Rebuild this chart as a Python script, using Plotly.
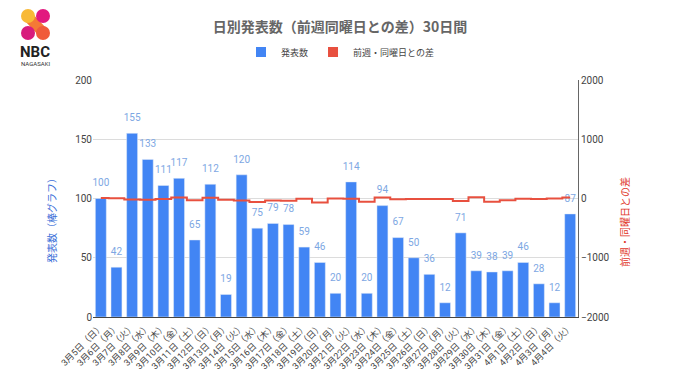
import plotly.graph_objects as go

# ---------------- data ----------------
dates = ["3月5日（日）", "3月6日（月）", "3月7日（火）", "3月8日（水）", "3月9日（木）",
         "3月10日（金）", "3月11日（土）", "3月12日（日）", "3月13日（月）", "3月14日（火）",
         "3月15日（水）", "3月16日（木）", "3月17日（金）", "3月18日（土）", "3月19日（日）",
         "3月20日（月）", "3月21日（火）", "3月22日（水）", "3月23日（木）", "3月24日（金）",
         "3月25日（土）", "3月26日（日）", "3月27日（月）", "3月28日（火）", "3月29日（水）",
         "3月30日（木）", "3月31日（金）", "4月1日（土）", "4月2日（日）", "4月3日（月）",
         "4月4日（火）"]
counts = [100, 42, 155, 133, 111, 117, 65, 112, 19, 120, 75, 79, 78, 59, 46, 20,
          114, 20, 94, 67, 50, 36, 12, 71, 39, 38, 39, 46, 28, 12, 87]
diff_prev_week = [10, 5, -15, -20, -10, 15, -30, 12, -23, -35, -58, -32, -39, -6, -66, 1,
                  -6, -55, 15, -11, -9, -10, -8, -43, 19, -56, -28, -4, -8, 0, 16]
left_ticks = [0, 50, 100, 150, 200]
right_ticks = [-2000, -1000, 0, 1000, 2000]

title_text = "日別発表数（前週同曜日との差）30日間"
name_bar = "発表数"
name_line = "前週・同曜日との差"
left_title = "発表数（棒グラフ）"
right_title = "前週・同曜日との差"

# ---------------- layout constants ----------------
W, H = 680, 382
L, R, T, B = 93, 102, 80, 65
PW, PH = W - L - R, H - T - B

def px_x(px):
    return (px - L) / PW

def px_y(py):
    return (H - B - py) / PH

BLUE = "#4285f4"
RED = "#e8503f"
FONT = "Roboto, Noto Sans CJK JP, sans-serif"

fig = go.Figure()

fig.add_trace(go.Bar(
    x=dates, y=counts, name=name_bar, marker_color=BLUE,
    showlegend=False, yaxis="y",
))
fig.add_trace(go.Scatter(
    x=dates, y=counts, mode="markers+text", text=[str(v) for v in counts],
    textposition="top center", marker=dict(size=14, color="rgba(0,0,0,0)"),
    textfont=dict(color="#7da7e3", size=10, family=FONT),
    showlegend=False, cliponaxis=False, hoverinfo="skip", yaxis="y",
))
fig.add_trace(go.Scatter(
    x=dates, y=diff_prev_week, mode="lines", name=name_line,
    line=dict(color=RED, width=2, shape="hvh"),
    showlegend=False, yaxis="y2",
))
# legend proxies (square swatches)
fig.add_trace(go.Scatter(x=[None], y=[None], mode="markers", name=name_bar,
                         marker=dict(symbol="square", size=10, color=BLUE)))
fig.add_trace(go.Scatter(x=[None], y=[None], mode="markers", name=name_line,
                         marker=dict(symbol="square", size=10, color=RED)))

fig.update_layout(
    width=W, height=H,
    margin=dict(l=L, r=R, t=T, b=B, autoexpand=False),
    paper_bgcolor="white", plot_bgcolor="white",
    font=dict(family=FONT, color="#444"),
    bargap=0.3,
    title=dict(text="<b>" + title_text + "</b>", x=0.5, xanchor="center",
               y=1 - 27 / H, yanchor="middle",
               font=dict(size=14, color="#666", family="Noto Sans CJK JP, sans-serif")),
    legend=dict(orientation="h", xref="container", yref="container",
                x=0.5, xanchor="center", y=1 - 52 / H, yanchor="middle",
                font=dict(size=9, color="#444"), itemwidth=30),
    xaxis=dict(type="category", range=[-0.5, len(dates) - 0.5],
               tickangle=-45, tickfont=dict(size=9, color="#444"),
               showline=True, linecolor="#444", linewidth=1, showgrid=False, ticks="",
               automargin=False),
    yaxis=dict(range=[0, 200], tickvals=left_ticks, tickfont=dict(size=10, color="#444"),
               gridcolor="#dcdcdc", zeroline=False, showline=False, ticks="",
               automargin=False),
    yaxis2=dict(range=[-2000, 2000], tickvals=right_ticks, overlaying="y", side="right",
                tickfont=dict(size=10, color="#444"), showgrid=False, zeroline=False,
                showline=True, linecolor="#666", linewidth=1, ticks="",
                automargin=False),
)

def ann(text, px, py, size, color, angle=0, family=None):
    f = dict(size=size, color=color)
    if family:
        f["family"] = family
    return dict(text=text, x=px_x(px), y=px_y(py), xref="paper", yref="paper",
                xanchor="center", yanchor="middle", textangle=angle,
                showarrow=False, font=f)

annotations = [
    ann(left_title, 52, 218, 10, "#3b6fd8", -90),
    ann(right_title, 625, 222, 10, "#e0362a", -90),
    ann("<b>NBC</b>", 35, 52, 15, "#222", 0, "Roboto, sans-serif"),
    ann("NAGASAKI", 35, 64, 6, "#333", 0, "Roboto, sans-serif"),
]
fig.update_layout(annotations=annotations)

# logo shapes
def circle(cx, cy, r, color):
    return dict(type="circle", xref="paper", yref="paper",
                x0=px_x(cx - r), x1=px_x(cx + r), y0=px_y(cy + r), y1=px_y(cy - r),
                fillcolor=color, line=dict(width=0), layer="above")

def path_px(points, color):
    d = "M " + " L ".join(f"{px_x(x)},{px_y(y)}" for x, y in points) + " Z"
    return dict(type="path", xref="paper", yref="paper", path=d,
                fillcolor=color, line=dict(width=0), layer="above")

shapes = [
    path_px([(24, 20), (31, 12), (47, 29), (40, 37)], "#f47a35"),
    circle(28, 16, 7, "#f8b936"),
    circle(43, 16, 7, "#e2197f"),
    circle(28, 33, 7, "#d81b7d"),
    circle(43, 33, 7, "#f05a3a"),
]
fig.update_layout(shapes=shapes)

fig.write_html("out.html", config={"displayModeBar": False},
               post_script="document.body.style.margin='0';document.body.style.overflow='hidden';")
